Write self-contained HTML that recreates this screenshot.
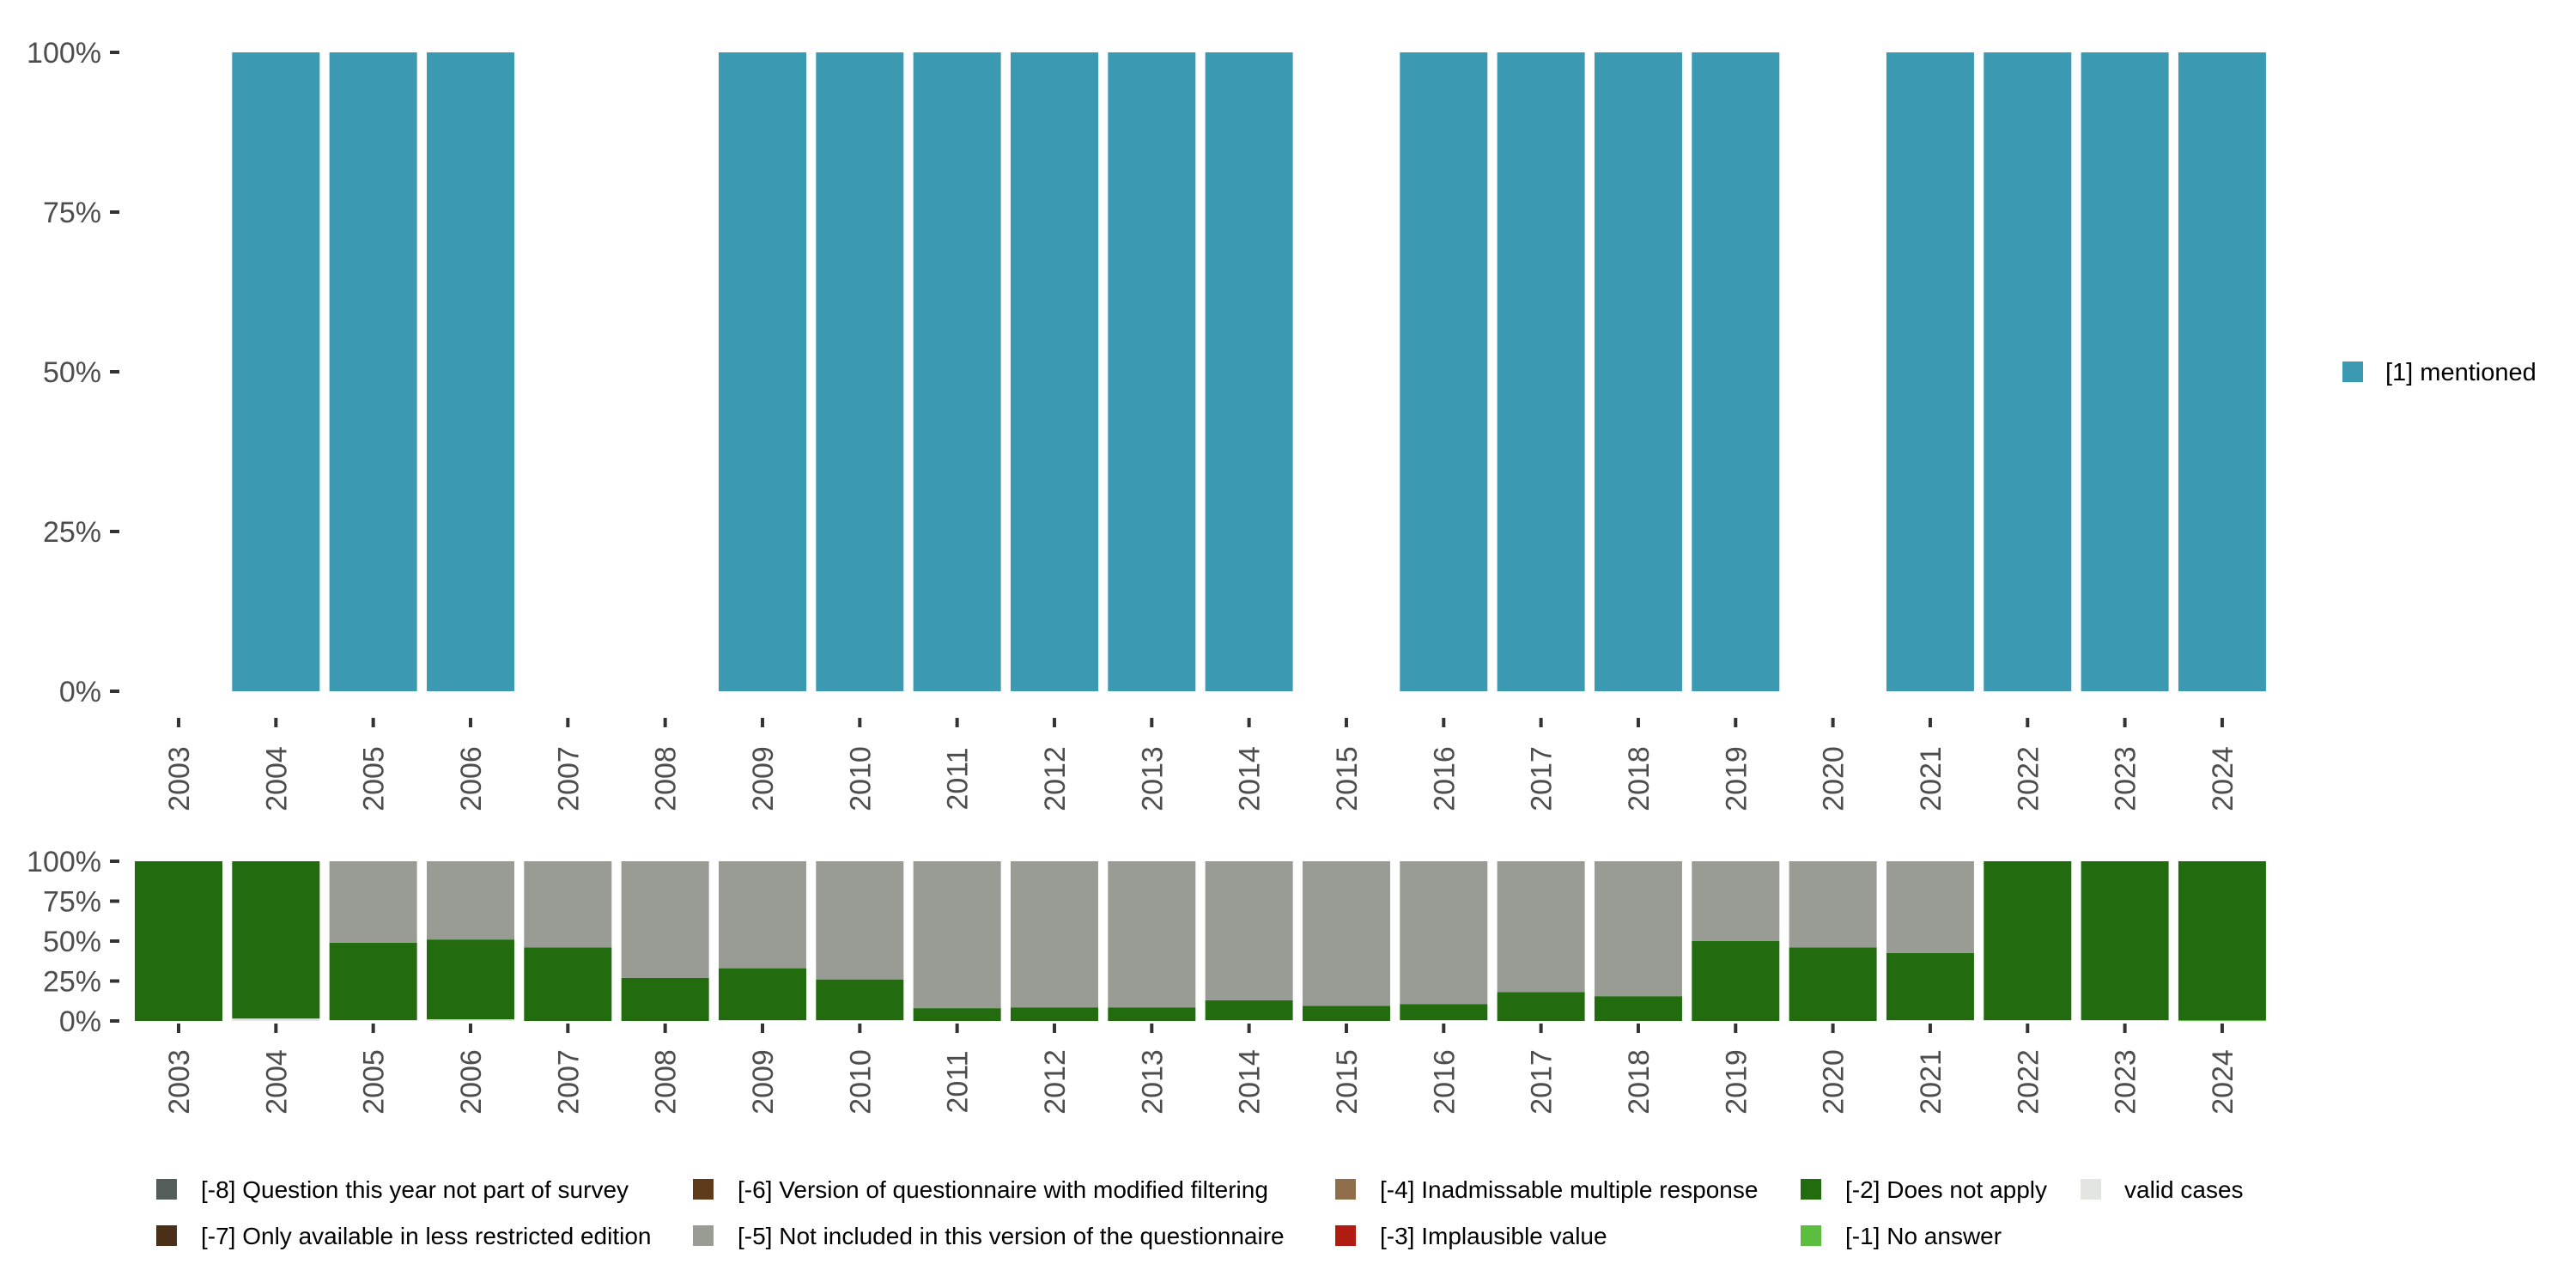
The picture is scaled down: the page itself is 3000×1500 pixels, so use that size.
<!DOCTYPE html>
<html><head><meta charset="utf-8"><style>
body{margin:0;background:#fff;}
svg{display:block;font-family:"Liberation Sans","DejaVu Sans",sans-serif;}
</style></head><body>
<svg id="chart" width="3000" height="1500" viewBox="0 0 3000 1500" xmlns="http://www.w3.org/2000/svg"></svg>
<script>
const years = [2003,2004,2005,2006,2007,2008,2009,2010,2011,2012,2013,2014,2015,2016,2017,2018,2019,2020,2021,2022,2023,2024];
const mentioned = [0,100,100,100,0,0,100,100,100,100,100,100,0,100,100,100,100,0,100,100,100,100];
const validCases = [0,1.5,0.5,1,0,0,0.5,0.5,0,0,0,0.5,0,0.5,0,0,0,0,0.5,0.5,0.5,0];
const noAnswer = [0,0,0,0,0,0,0,0,0,0,0,0,0,0,0,0,0,0,0,0,0,0.5];
const doesNotApply = [100,98.5,48.5,50,46,27,32.5,25.5,8,8.5,8.5,12.5,9.5,10,18,15.5,50,46,42,99.5,99.5,99.5];
const notIncluded = [0,0,51,49,54,73,67,74,92,91.5,91.5,87,90.5,89.5,82,84.5,50,54,57.5,0,0,0];
const yTicks = [0,25,50,75,100];
const tickLabels = ["0%","25%","50%","75%","100%"];

const svgEl = document.getElementById('chart');
const NS = 'http://www.w3.org/2000/svg';
function mk(tag, attrs, parent){const e=document.createElementNS(NS,tag);for(const k in attrs)e.setAttribute(k,attrs[k]);(parent||svgEl).appendChild(e);return e;}
const step = 113.33, x0 = 208, bw = 102;
function xc(i){return x0 + i*step;}

function panel(yTop, yBot, name, tickY0, labelY){
  const ys = v => yBot - (yBot-yTop)*v/100;
  const g = mk('g',{});
  
  
  yTicks.forEach((t,k)=>{
    const tx = mk('text',{x:118,y:ys(t)+12,'text-anchor':'end','font-size':34,fill:'#4d4d4d'},g);
    tx.textContent = tickLabels[k];
    
    
    const tl = mk('line',{x1:128,x2:139,y1:ys(t),y2:ys(t),stroke:'#333','stroke-width':4},g);
    
    
  });
  years.forEach((yr,i)=>{
    const tl = mk('line',{x1:xc(i),x2:xc(i),y1:tickY0,y2:tickY0+11,stroke:'#333','stroke-width':4},g);
    
    
    const tx = mk('text',{x:0,y:0,'text-anchor':'middle','font-size':34,fill:'#4d4d4d',transform:`translate(${xc(i)+12},${labelY}) rotate(-90)`},g);
    tx.textContent = yr;
    
    
  });
  return {g, ys};
}

const topPanel = panel(61, 805, 'top-panel', 836, 907);
mentioned.forEach((v,i)=>{
  if(v<=0) return;
  const r = mk('rect',{x:xc(i)-bw/2,y:topPanel.ys(v),width:bw,height:topPanel.ys(0)-topPanel.ys(v),fill:'#3b9ab2'},topPanel.g);
  
  
});

const botPanel = panel(1003, 1189, 'bottom-panel', 1192, 1260);
years.forEach((yr,i)=>{
  const segs = [[noAnswer[i],'#5cbe3e','no-answer'],[validCases[i],'#e3e5e0','valid'],[doesNotApply[i],'#226c0f','does-not-apply'],[notIncluded[i],'#989c94','not-included']];
  let acc = 0;
  segs.forEach(([v,c,n])=>{
    if(v<=0) return;
    const r = mk('rect',{x:xc(i)-bw/2,y:botPanel.ys(acc+v),width:bw,height:botPanel.ys(acc)-botPanel.ys(acc+v),fill:c},botPanel.g);
    
    
    acc += v;
  });
});

const lt = mk('g',{});


mk('rect',{x:2728,y:421,width:24,height:24,fill:'#3b9ab2'},lt);
const ltt = mk('text',{x:2778,y:443,'font-size':29,fill:'#000'},lt);
ltt.textContent = '[1] mentioned';

const legItems = [
  [182,1385,'#555d5a','[-8] Question this year not part of survey'],
  [182,1439,'#4a3018','[-7] Only available in less restricted edition'],
  [807,1385,'#5c3a1a','[-6] Version of questionnaire with modified filtering'],
  [807,1439,'#989c94','[-5] Not included in this version of the questionnaire'],
  [1555,1385,'#8f6e4b','[-4] Inadmissable multiple response'],
  [1555,1439,'#b01c10','[-3] Implausible value'],
  [2097,1385,'#226c0f','[-2] Does not apply'],
  [2097,1439,'#5cbe3e','[-1] No answer'],
  [2423,1385,'#e3e5e0','valid cases']
];
legItems.forEach(([x,y,c,t])=>{
  const g = mk('g',{});
  
  
  mk('rect',{x:x,y:y-12,width:24,height:24,fill:c},g);
  const tx = mk('text',{x:(c==='#e3e5e0'?x+51:x+52),y:y+10,'font-size':28,fill:'#000'},g);
  tx.textContent = t;
});
</script>
</body></html>
